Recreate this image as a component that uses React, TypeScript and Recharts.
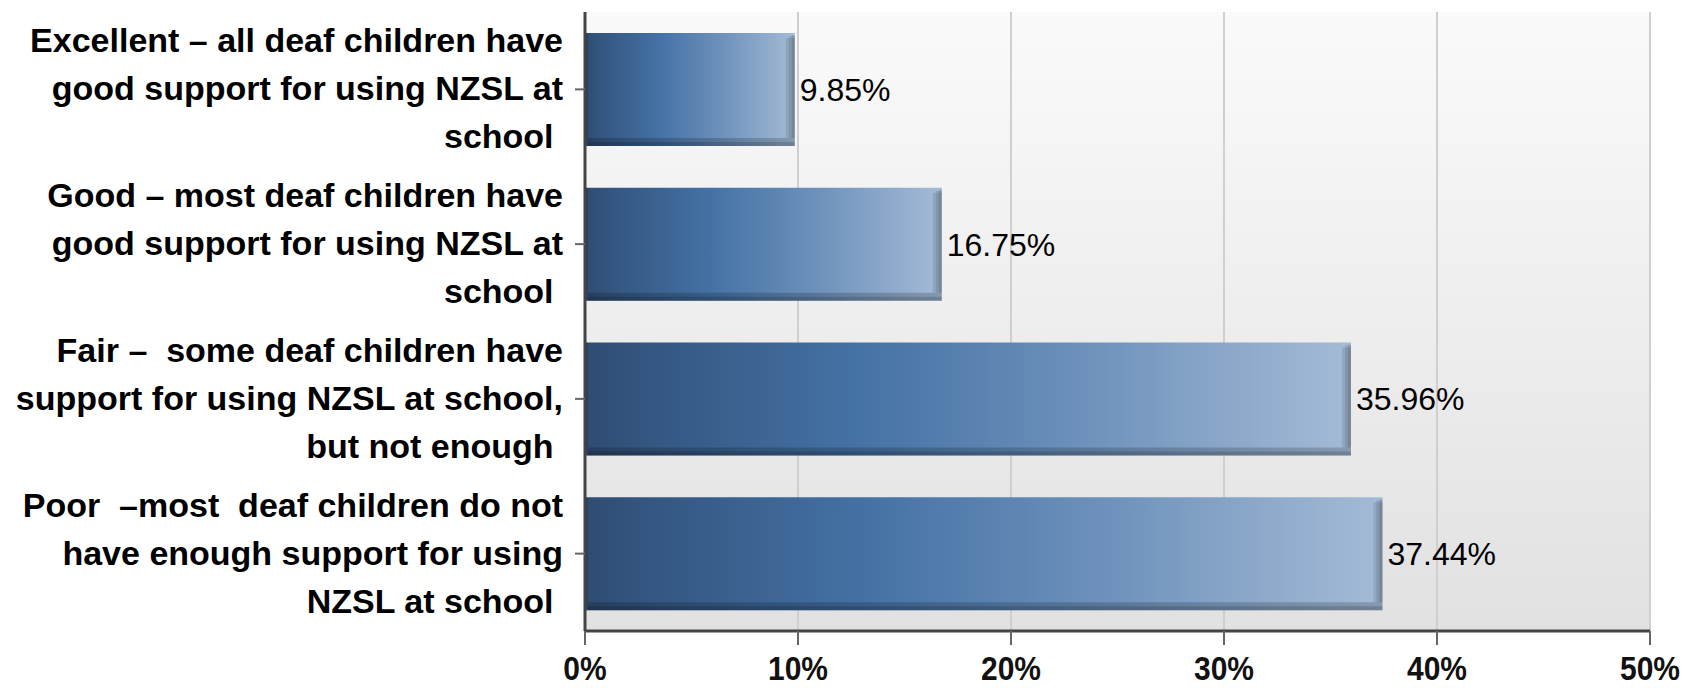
import { Bar, BarChart, CartesianGrid, LabelList, XAxis, YAxis } from "recharts";

const categories = [
	"Excellent – all deaf children have\ngood support for using NZSL at\nschool ",
	"Good – most deaf children have\ngood support for using NZSL at\nschool ",
	"Fair –  some deaf children have\nsupport for using NZSL at school,\nbut not enough ",
	"Poor  –most  deaf children do not\nhave enough support for using\nNZSL at school ",
];
const shares = [9.85, 16.75, 35.96, 37.44];
const xTicks = [0, 10, 20, 30, 40, 50];

const chartData = categories.map((category, i) => ({ category, value: shares[i] }));

const FONT = "'Liberation Sans', Arial, sans-serif";

function CategoryTick({ x, y, payload }: any) {
	const lines = String(payload.value).split("\n");
	return (
		<text
			x={x}
			y={y}
			textAnchor="end"
			fontFamily={FONT}
			fontWeight="bold"
			fontSize={34}
			fill="#000"
			style={{ whiteSpace: "pre" }}
		>
			{lines.map((line, i) => (
				<tspan key={i} x={x} y={y + (i - 1) * 48 + 11}>
					{line}
				</tspan>
			))}
		</text>
	);
}

function PercentTick({ x, y, payload }: any) {
	return (
		<text
			transform={`translate(${x},${y + 35}) scale(1,1.1)`}
			textAnchor="middle"
			fontFamily={FONT}
			fontWeight="bold"
			fontSize={30}
			fill="#111"
		>
			{`${payload.value}%`}
		</text>
	);
}

// gradient bar with a stepped bevel on the bottom and right edges
function BevelBar({ x, y, width, height }: any) {
	if (!width || width <= 0) return null;
	return (
		<g>
			<rect x={x} y={y} width={width} height={height} fill="url(#barGrad)" />
			<rect x={x} y={y} width={3} height={height} fill="#000" fillOpacity={0.15} />
			<rect x={x + 3} y={y + height - 8} width={width - 3} height={8} fill="#000" fillOpacity={0.18} />
			<rect x={x + 3} y={y + height - 4} width={width - 3} height={4} fill="#000" fillOpacity={0.15} />
			<rect x={x + width - 9} y={y + 5} width={9} height={height - 13} fill="#000" fillOpacity={0.1} />
			<rect x={x + width - 6} y={y + 3} width={6} height={height - 11} fill="#000" fillOpacity={0.1} />
			<rect x={x + width - 3} y={y + 2} width={3} height={height - 10} fill="#000" fillOpacity={0.1} />
		</g>
	);
}

export default function App() {
	return (
		<div style={{ width: 1683, height: 688, background: "#fff" }}>
			<style>{"body{margin:0}"}</style>
			<BarChart
				width={1683}
				height={688}
				data={chartData}
				layout="vertical"
				margin={{ top: 12, right: 33, left: 0, bottom: 0 }}
				barSize={113}
			>
				<defs>
					<linearGradient id="plotBg" x1="0" y1="0" x2="0" y2="1">
						<stop offset="0%" stopColor="#fafafa" />
						<stop offset="100%" stopColor="#e1e1e1" />
					</linearGradient>
					<linearGradient id="barGrad" x1="0" y1="0" x2="1" y2="0">
						<stop offset="0%" stopColor="#2f4c72" />
						<stop offset="8%" stopColor="#345681" />
						<stop offset="35%" stopColor="#4471a4" />
						<stop offset="65%" stopColor="#6d91bb" />
						<stop offset="100%" stopColor="#a4bbd6" />
					</linearGradient>
				</defs>
				<CartesianGrid
					horizontal={false}
					fill="url(#plotBg)"
					stroke="#cfcfcf"
					strokeWidth={2}
				/>
				<XAxis
					type="number"
					domain={[0, 50]}
					ticks={xTicks}
					interval={0}
					height={57}
					tickSize={14}
					tickMargin={0}
					axisLine={{ stroke: "#444", strokeWidth: 3 }}
					tickLine={{ stroke: "#666", strokeWidth: 2 }}
					tick={<PercentTick />}
				/>
				<YAxis
					type="category"
					dataKey="category"
					width={585}
					tickSize={10}
					tickMargin={12}
					interval={0}
					axisLine={{ stroke: "#444", strokeWidth: 3 }}
					tickLine={{ stroke: "#666", strokeWidth: 2 }}
					tick={<CategoryTick />}
				/>
				<Bar dataKey="value" shape={<BevelBar />} isAnimationActive={false}>
					<LabelList
						dataKey="value"
						position="right"
						offset={5}
						fontFamily={FONT}
						fontSize={32}
						fill="#000"
						formatter={(v: any) => `${Number(v).toFixed(2)}%`}
					/>
				</Bar>
			</BarChart>
		</div>
	);
}
